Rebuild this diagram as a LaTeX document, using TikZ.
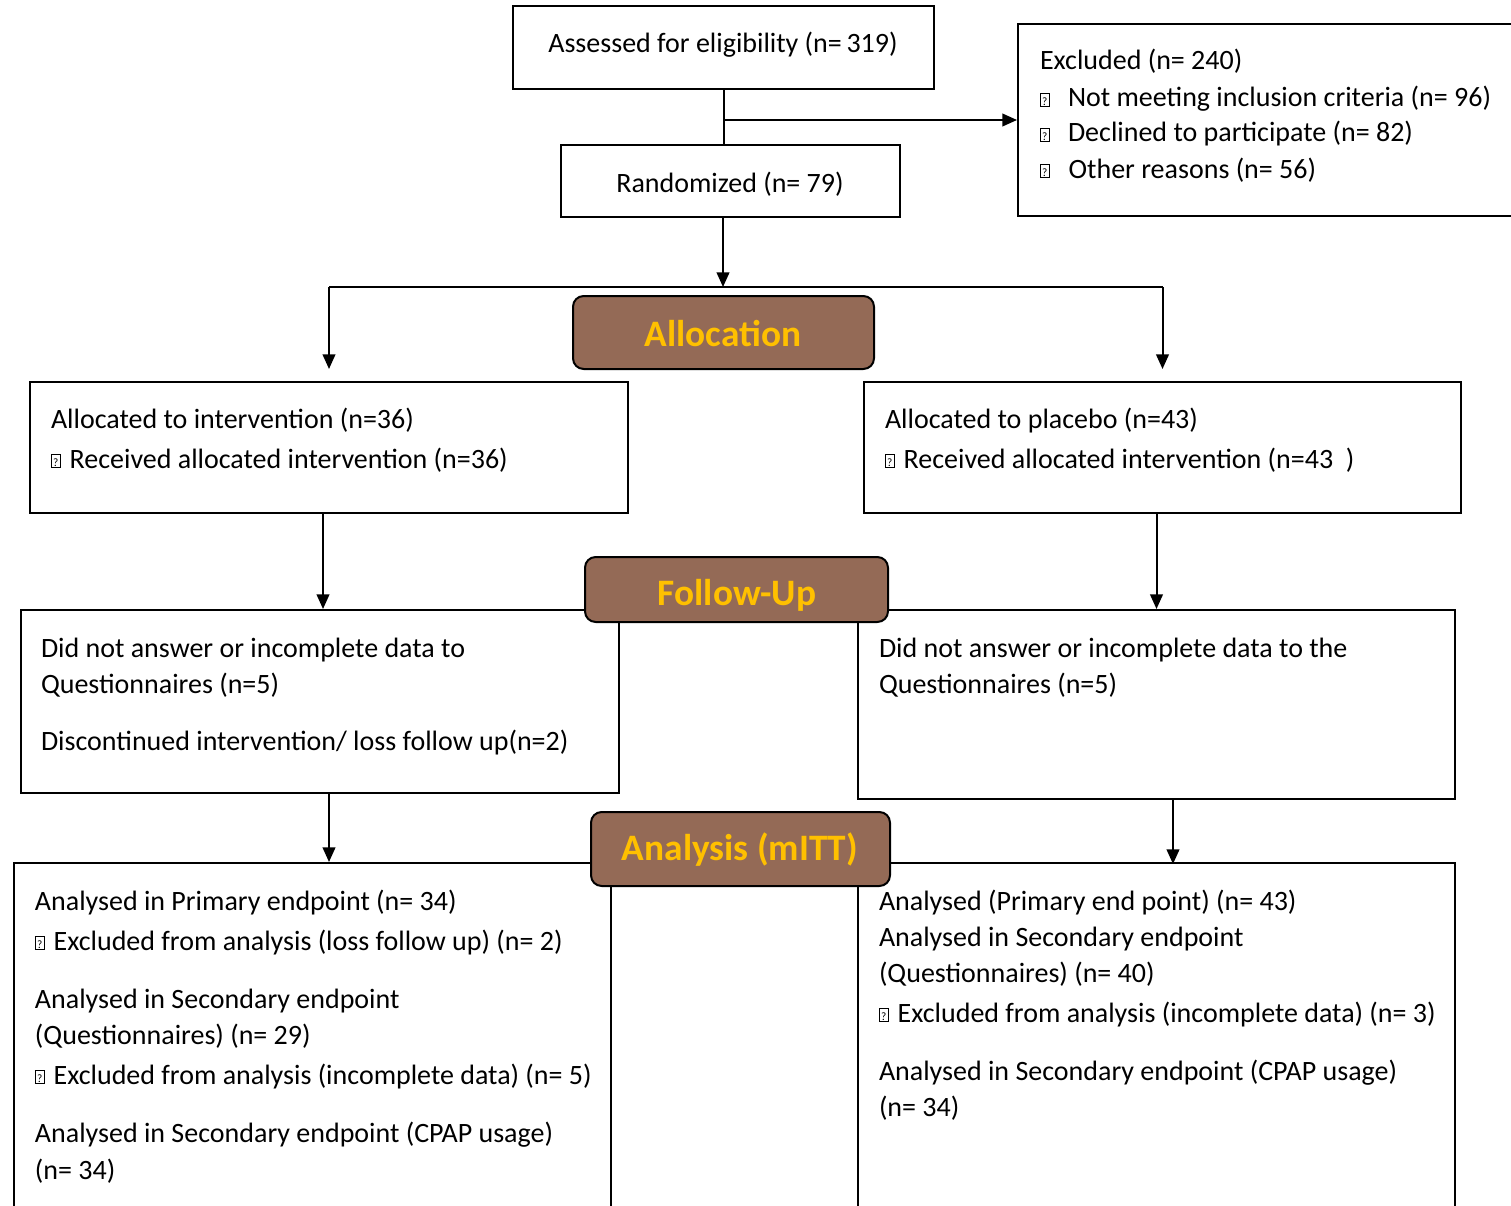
\documentclass[tikz,border=0pt]{standalone}
\usepackage{fontspec}
\setmainfont{Carlito}
\usetikzlibrary{arrows.meta,fit,calc}

\definecolor{hdrbrown}{RGB}{148,106,86}
\definecolor{hdrgold}{RGB}{255,192,0}
% missing-glyph bullet as printed in the chart
\newcommand{\qmark}{{\setlength{\fboxsep}{0.4pt}\setlength{\fboxrule}{0.5pt}\raisebox{0.9pt}{\framebox[7pt][c]{\rule{0pt}{9pt}\fontsize{8.5}{8.5}\selectfont ?}}}}

\tikzset{every picture/.style={line width=1.5pt}}
\tikzset{
  box/.style={draw, inner sep=0pt, fill=white},
  hdr/.style={draw, inner sep=0pt, rounded corners=8pt, fill=hdrbrown},
  hdrtxt/.style={inner sep=0pt, text=hdrgold, font=\fontsize{28}{32}\selectfont\bfseries},
  ctrtxt/.style={inner sep=0pt, font=\fontsize{21}{24}\selectfont},
  txt/.style={anchor=base west, inner sep=0pt, font=\fontsize{21}{24}\selectfont},
  arr/.style={-{Triangle[length=11pt,width=9.5pt]}},
}

\begin{document}
\begin{tikzpicture}[x=0.75pt,y=0.75pt,yscale=-1,xscale=1]
\useasboundingbox[fill=white] (0,0) rectangle (1511,1206);

%Boxes
\node[box, fit={(513,6) (934,89)}] (assess) {};
\node[box, fit={(1018,24) (1522,216)}] (excl) {};
\node[box, fit={(561,145) (900,217)}] (rand) {};
\node[box, fit={(30,382) (628,513)}] (allocL) {};
\node[box, fit={(864,382) (1461,513)}] (allocR) {};
\node[box, fit={(21,610) (619,793)}] (fuL) {};
\node[box, fit={(858,610) (1455,799)}] (fuR) {};
\node[box, fit={(14,863) (611,1230)}] (anL) {};
\node[box, fit={(858,863) (1455,1230)}] (anR) {};

%Headers
\node[hdr, fit={(573,296) (874,369)}] (hAlloc) {};
\node[hdr, fit={(585,557) (888,622)}] (hFollow) {};
\node[hdr, fit={(591,812) (890,886)}] (hAnalysis) {};
\node[hdrtxt] (hAllocT) at (723,334) {Allocation};
\node[hdrtxt] (hFollowT) at (737,595) {Follow-Up};
\node[hdrtxt] (hAnalysisT) at (740,850) {Analysis (mITT)};

% Text Node
\node[ctrtxt] (assessT) at (723,45) {Assessed for eligibility (n=\,319)};
\node[ctrtxt] (randT) at (730,184) {Randomized (n= 79)};
% Text Node
\node[txt] (exT1) at (1039,70) {Excluded (n= 240)};
\node[txt] (exT2) at (1039,107) {\makebox[21pt][l]{\qmark}Not meeting inclusion criteria (n= 96)};
\node[txt] (exT3) at (1039,142) {\makebox[21pt][l]{\qmark}Declined to participate (n= 82)};
\node[txt] (exT4) at (1039,178) {\makebox[21.5pt][l]{\qmark}Other reasons (n= 56)};
% Text Node
\node[txt] (alLT1) at (50,428) {Allocated to intervention (n=36)};
\node[txt] (alLT2) at (50,468) {\makebox[14pt][l]{\qmark}Received allocated intervention (n=36)};
\node[txt] (alRT1) at (884,428) {Allocated to placebo (n=43)};
\node[txt] (alRT2) at (884,468) {\makebox[14pt][l]{\qmark}Received allocated intervention (n=43\ \ )};
% Text Node
\node[txt] (fuLT1) at (40,657) {Did not answer or incomplete data to};
\node[txt] (fuLT2) at (40,693) {Questionnaires (n=5)};
\node[txt] (fuLT3) at (40,750) {Discontinued intervention/ loss follow up(n=2)};
\node[txt] (fuRT1) at (878,657) {Did not answer or incomplete data to the};
\node[txt] (fuRT2) at (878,693) {Questionnaires (n=5)};
% Text Node
\node[txt] (anLT1) at (34,910) {Analysed in Primary endpoint (n= 34)};
\node[txt] (anLT2) at (34,950) {\makebox[14pt][l]{\qmark}Excluded from analysis (loss follow up) (n= 2)};
\node[txt] (anLT3) at (34,1008) {Analysed in Secondary endpoint};
\node[txt] (anLT4) at (34,1044) {(Questionnaires) (n= 29)};
\node[txt] (anLT5) at (34,1084) {\makebox[14pt][l]{\qmark}Excluded from analysis (incomplete data) (n= 5)};
\node[txt] (anLT6) at (34,1142) {Analysed in Secondary endpoint (CPAP usage)};
\node[txt] (anLT7) at (34,1179) {(n= 34)};
\node[txt] (anRT1) at (878,910) {Analysed (Primary end point) (n= 43)};
\node[txt] (anRT2) at (878,946) {Analysed in Secondary endpoint};
\node[txt] (anRT3) at (878,982) {(Questionnaires) (n= 40)};
\node[txt] (anRT4) at (878,1022) {\makebox[14pt][l]{\qmark}Excluded from analysis (incomplete data) (n= 3)};
\node[txt] (anRT5) at (878,1080) {Analysed in Secondary endpoint (CPAP usage)};
\node[txt] (anRT6) at (878,1116) {(n= 34)};

%Connectors
\coordinate (bus) at (723,287);
\draw (assess.south) -- (assess.south |- rand.north);
\draw[arr] (assess.south |- excl.west) -- (excl.west);
\draw[arr] (rand.south -| bus) -- (bus);
\draw (bus -| allocL.north) -- (bus -| allocR.north);
\draw[arr, shorten >=9pt] (bus -| allocL.north) -- (allocL.north);
\draw[arr, shorten >=9pt] (bus -| allocR.north) -- (allocR.north);
\draw[arr] ($(allocL.south)+(-6,0)$) -- ($(fuL.north)+(3,0)$);
\draw[arr] (fuR.north |- allocR.south) -- (fuR.north);
\draw[arr] ($(fuL.south)+(9,0)$) -- ($(anL.north)+(16.5,0)$);
\draw[arr] ($(fuR.south)+(16.5,0)$) -- ($(anR.north)+(16.5,2)$);
\end{tikzpicture}
\end{document}
